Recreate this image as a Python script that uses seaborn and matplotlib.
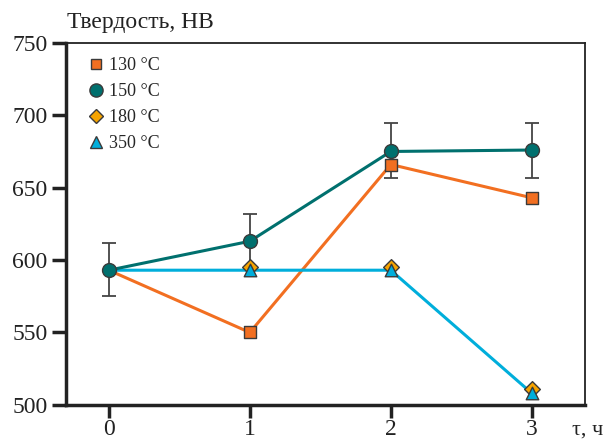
import matplotlib
matplotlib.use("Agg")
import matplotlib.pyplot as plt
import seaborn as sns
import pandas as pd
from matplotlib.lines import Line2D

sns.set_style("ticks")
plt.rcParams['font.family'] = ['Liberation Serif', 'DejaVu Serif']

time_h = [0, 1, 2, 3]
hb_130 = [593, 550, 666, 643]
hb_150 = [593, 613, 675, 676]
hb_180 = [593, 595, 595, 511]
hb_350 = [593, 593, 593, 508]
err_150_low = [575, 594, 657, 657]
err_150_high = [612, 632, 695, 695]
series_labels = ["130 °C", "150 °C", "180 °C", "350 °C"]
y_ticks = [500, 550, 600, 650, 700, 750]
x_ticks = [0, 1, 2, 3]

colors = {"130 °C": "#F26F21", "150 °C": "#00706E", "180 °C": "#F5A300", "350 °C": "#00AEDB"}
markers = {"130 °C": "s", "150 °C": "o", "180 °C": "D", "350 °C": "^"}
msize = {"130 °C": 8, "150 °C": 10, "180 °C": 8, "350 °C": 9}

df = pd.DataFrame({
    "t": time_h * 4,
    "hb": hb_130 + hb_150 + hb_180 + hb_350,
    "series": sum([[s] * 4 for s in series_labels], []),
})

fig = plt.figure(figsize=(6.15, 4.42), dpi=100)
ax = fig.add_axes([0.107, 0.084, 0.844, 0.819])

edge = "#3a3a3a"
# error bars on 150 °C
lo = [v - l for v, l in zip(hb_150, err_150_low)]
hi = [h - v for v, h in zip(hb_150, err_150_high)]
ax.errorbar(time_h, hb_150, yerr=[lo, hi], fmt="none", ecolor="#444444",
            elinewidth=1.3, capsize=5, capthick=1.3, zorder=1)

# lines
for s, lw, z in [("130 °C", 2.2, 2), ("350 °C", 2.2, 3), ("150 °C", 2.2, 4)]:
    sub = df[df.series == s]
    sns.lineplot(data=sub, x="t", y="hb", color=colors[s], lw=lw, ax=ax,
                 legend=False, zorder=z)

# markers
for s, z in [("130 °C", 5), ("180 °C", 6), ("350 °C", 7), ("150 °C", 8)]:
    sub = df[df.series == s]
    if s != "150 °C":
        sub = sub[sub.t > 0]
    sns.scatterplot(data=sub, x="t", y="hb", marker=markers[s], color=colors[s],
                    s=msize[s] ** 2, edgecolor=edge, linewidth=1.0, ax=ax,
                    legend=False, zorder=z)

ax.set_xlim(-0.305, 3.376)
ax.set_ylim(500, 750)
ax.set_xticks(x_ticks)
ax.set_yticks(y_ticks)
ax.set_xlabel("")
ax.set_ylabel("")
ax.tick_params(axis="both", direction="out", length=10, width=2.5, labelsize=17,
               colors="#222222", pad=3)
ax.tick_params(axis="x", length=9, pad=1)
for side in ["left", "bottom"]:
    ax.spines[side].set_linewidth(2.5)
    ax.spines[side].set_color("#222222")
for side in ["top", "right"]:
    ax.spines[side].set_linewidth(1.3)
    ax.spines[side].set_color("#222222")
    ax.spines[side].set_visible(True)

fig.text(0.109, 0.948, "Твердость, HB", fontsize=17, ha="left", va="center", color="#222222")
fig.text(0.93, 0.028, "τ, ч", fontsize=16, ha="left", va="center", color="#222222")

handles = [Line2D([], [], linestyle="none", marker=markers[s], markersize=msize[s] * 0.95,
                  markerfacecolor=colors[s], markeredgecolor=edge, markeredgewidth=1.0)
           for s in series_labels]
ax.legend(handles, series_labels, loc="upper left", frameon=False, fontsize=13,
          handletextpad=-0.3, labelspacing=0.5, borderaxespad=0.3,
          bbox_to_anchor=(0.0, 0.995))

fig.savefig("out.png", dpi=100)
